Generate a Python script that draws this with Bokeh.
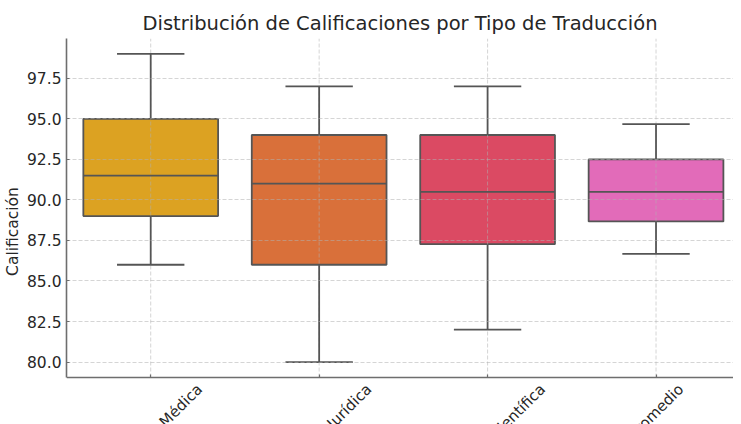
import numpy as np
from bokeh.plotting import figure
from bokeh.models import Range1d, FixedTicker, NumeralTickFormatter, ColumnDataSource
from bokeh.embed import file_html
from bokeh.resources import INLINE
from bokeh.core.properties import value

# ---- data ----
categories = ["Traducción Médica", "Traducción Jurídica", "Traducción Científica", "Promedio"]
whisker_low = [86.0, 80.0, 82.0, 86.67]
q1 = [89.0, 86.0, 87.27, 88.67]
median = [91.5, 91.0, 90.5, 90.5]
q3 = [95.0, 94.0, 94.0, 92.5]
whisker_high = [99.0, 97.0, 97.0, 94.67]
colors = ["#DCA222", "#D9703A", "#DB4A63", "#E26BB9"]
y_ticks = [80.0, 82.5, 85.0, 87.5, 90.0, 92.5, 95.0, 97.5]

title_text = "Distribución de Calificaciones por Tipo de Traducción"
y_label = "Calificación"

FONT = "DejaVu Sans"
TXT = "#262626"
EDGE = "#555555"
TICK_PX = 15.5
XLAB_PX = 15

# ---- layout (pixels) ----
H = 424          # canvas height
TOP = 38         # space above the plotting area
AXIS_PX = 339    # height of the box-plot area (top to x axis)

n = len(categories)
xs = list(range(n))
lo, hi = min(whisker_low), max(whisker_high)
pad = 0.05 * (hi - lo)
y0, y1 = lo - pad, hi + pad
ppu = AXIS_PX / (y1 - y0)
y_ext = y0 - (H - TOP - AXIS_PX) / ppu   # frame continues below the x axis for the labels

p = figure(
    width=733, height=H,
    min_border_left=58, min_border_top=TOP, min_border_bottom=0, min_border_right=0,
    x_range=Range1d(-0.5, 3.46), y_range=Range1d(y_ext, y1),
    output_backend="svg", toolbar_location=None,
)
p.outline_line_color = None
p.background_fill_color = "white"
p.border_fill_color = "white"

# title
p.title.text = title_text
p.title.align = "center"
p.title.offset = 5
p.title.text_font = FONT
p.title.text_font_size = "19.5px"
p.title.text_font_style = "normal"
p.title.text_color = TXT
p.title.standoff = 8

# boxes (underlay so the grid runs across them)
src = ColumnDataSource(dict(x=xs, q1=q1, q3=q3, med=median, lo=whisker_low, hi=whisker_high, color=colors))
p.vbar(x="x", width=0.8, bottom="q1", top="q3", source=src, fill_color="color",
       line_color=EDGE, line_width=1.8, level="underlay")

# vertical grid lines at the categories (only over the plotting area)
p.segment(x0=xs, y0=[y0] * n, x1=xs, y1=[y1] * n, line_color="#b0b0b0", line_alpha=0.6,
          line_width=0.9, line_dash="4 2")

# whiskers, caps, medians
p.segment(x0="x", y0="q3", x1="x", y1="hi", source=src, line_color=EDGE, line_width=1.8)
p.segment(x0="x", y0="q1", x1="x", y1="lo", source=src, line_color=EDGE, line_width=1.8)
cap_src = ColumnDataSource(dict(x0=[x - 0.2 for x in xs], x1=[x + 0.2 for x in xs],
                                lo=whisker_low, hi=whisker_high))
p.segment(x0="x0", y0="hi", x1="x1", y1="hi", source=cap_src, line_color=EDGE, line_width=1.8)
p.segment(x0="x0", y0="lo", x1="x1", y1="lo", source=cap_src, line_color=EDGE, line_width=1.8)
med_src = ColumnDataSource(dict(x0=[x - 0.4 for x in xs], x1=[x + 0.4 for x in xs], med=median))
p.segment(x0="x0", y0="med", x1="x1", y1="med", source=med_src, line_color=EDGE, line_width=1.8)

# axes
for ax in (p.xaxis[0], p.yaxis[0]):
    ax.axis_line_color = "#6e6e6e"
    ax.axis_line_width = 1.6
    ax.major_tick_line_color = "#6e6e6e"
    ax.major_tick_line_width = 1.2
    ax.major_tick_in = 3
    ax.major_tick_out = 0
    ax.minor_tick_line_color = None
    ax.major_label_text_font = FONT
    ax.major_label_text_font_size = f"{TICK_PX}px"
    ax.major_label_text_color = TXT

p.yaxis.ticker = FixedTicker(ticks=y_ticks)
p.yaxis.formatter = NumeralTickFormatter(format="0.0")
p.yaxis.bounds = (y0, y1)
p.yaxis.major_label_standoff = 5
p.yaxis.axis_label = y_label
p.yaxis.axis_label_text_font = FONT
p.yaxis.axis_label_text_font_size = f"{TICK_PX}px"
p.yaxis.axis_label_text_font_style = "normal"
p.yaxis.axis_label_text_color = TXT
p.yaxis.axis_label_standoff = 2

p.xaxis.ticker = FixedTicker(ticks=xs)
p.xaxis.fixed_location = y0
p.xaxis.major_label_text_color = None
p.xaxis.major_label_overrides = {x: "" for x in xs}

# horizontal grid
p.xgrid.visible = False
g = p.ygrid[0]
g.ticker = FixedTicker(ticks=y_ticks)
g.grid_line_color = "#b0b0b0"
g.grid_line_alpha = 0.6
g.grid_line_width = 0.9
g.grid_line_dash = "4 2"
g.level = "glyph"


# rotated category labels (centred on the tick, like matplotlib rotation=45)
def text_width(s, size):
    try:
        from PIL import ImageFont
        f = ImageFont.truetype("DejaVuSans.ttf", 100)
        return f.getlength(s) * size / 100.0
    except Exception:
        return 0.6 * size * len(s)


h = 1.164 * XLAB_PX
label_y = [y0 - (3 + 0.7071 * (text_width(c, XLAB_PX) + h) / 2) / ppu for c in categories]
p.text(x=xs, y=label_y, text=categories, angle=np.pi / 4, text_align="center",
       text_baseline="middle", text_font=value(FONT), text_font_size=f"{XLAB_PX}px",
       text_color=TXT)

open("out.html", "w").write(file_html(p, INLINE))
